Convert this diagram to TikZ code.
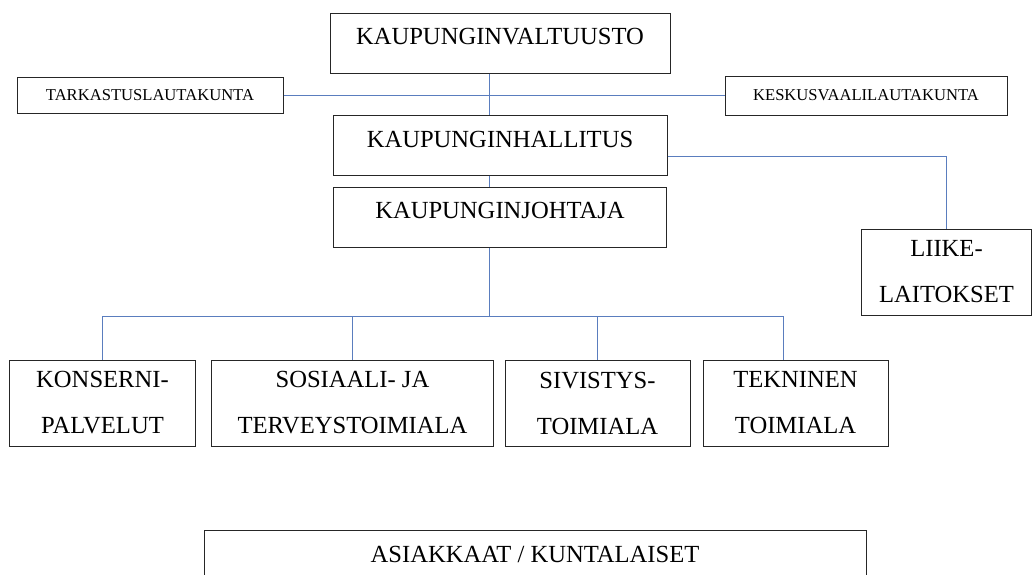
\documentclass[tikz,border=0pt]{standalone}
\usepackage{fontspec}
\setmainfont{Liberation Serif}
\usepackage{xcolor}
\usepackage{tikz}
\definecolor{linkblue}{HTML}{5A7DBE}
\definecolor{boxline}{HTML}{262626}

\begin{document}
\begin{tikzpicture}[x=1pt, y=-1pt,
    orgbox/.style={draw=boxline, line width=1pt, inner sep=0pt, align=center,
                   font=\fontsize{24.6}{46}\selectfont},
    smallbox/.style={orgbox, font=\fontsize{16.6}{20}\selectfont},
    link/.style={draw=linkblue, line width=1.1pt}]
    \useasboundingbox (0,0) rectangle (1034,574);

    % top of the organisation
    \node[orgbox, minimum width=340pt, minimum height=60pt, text depth=14pt] (valtuusto) at (500,43) {KAUPUNGINVALTUUSTO};
    \node[smallbox, minimum width=266pt, minimum height=36pt] (tarkastus) at (150,95.5) {TARKASTUSLAUTAKUNTA};
    \node[smallbox, minimum width=282pt, minimum height=39pt] (keskusvaali) at (866,95.5) {KESKUSVAALILAUTAKUNTA};
    \node[orgbox, minimum width=334pt, minimum height=60pt, text depth=12pt] (hallitus) at (500,145) {KAUPUNGINHALLITUS};
    \node[orgbox, minimum width=333pt, minimum height=60pt, text depth=14pt] (johtaja) at (500,217) {KAUPUNGINJOHTAJA};
    \node[orgbox, minimum width=170pt, minimum height=86pt] (liike) at (946.5,272) {LIIKE-\\LAITOKSET};

    % toimialat
    \node[orgbox, minimum width=186pt, minimum height=86pt] (konserni) at (102.5,403) {KONSERNI-\\PALVELUT};
    \node[orgbox, minimum width=282pt, minimum height=86pt] (sosiaali) at (352.5,403) {SOSIAALI- JA\\TERVEYSTOIMIALA};
    \node[orgbox, minimum width=185pt, minimum height=86pt] (sivistys) at (597.5,403) {SIVISTYS-\\TOIMIALA};
    \node[orgbox, minimum width=185pt, minimum height=86pt] (tekninen) at (795.5,403) {TEKNINEN\\TOIMIALA};

    \node[orgbox, minimum width=662pt, minimum height=48pt] (asiakkaat) at (535,554) {ASIAKKAAT / KUNTALAISET};

    % connectors
    \coordinate (spine) at (489.5,0);
    \coordinate (bus) at (489.5,316.5);
    \draw[link] (valtuusto.south -| spine) -- (hallitus.north -| spine);
    \draw[link] (tarkastus.east) -- (keskusvaali.west);
    \draw[link] (hallitus.south -| spine) -- (johtaja.north -| spine);
    \draw[link] (johtaja.south -| spine) -- (bus);
    \draw[link] ([yshift=-11.5pt]hallitus.east) -| (liike.north);
    \draw[link] (konserni.north) |- ([xshift=-12pt]tekninen.north |- bus) -- ([xshift=-12pt]tekninen.north);
    \draw[link] (sosiaali.north) -- (sosiaali.north |- bus);
    \draw[link] (sivistys.north) -- (sivistys.north |- bus);
\end{tikzpicture}
\end{document}
